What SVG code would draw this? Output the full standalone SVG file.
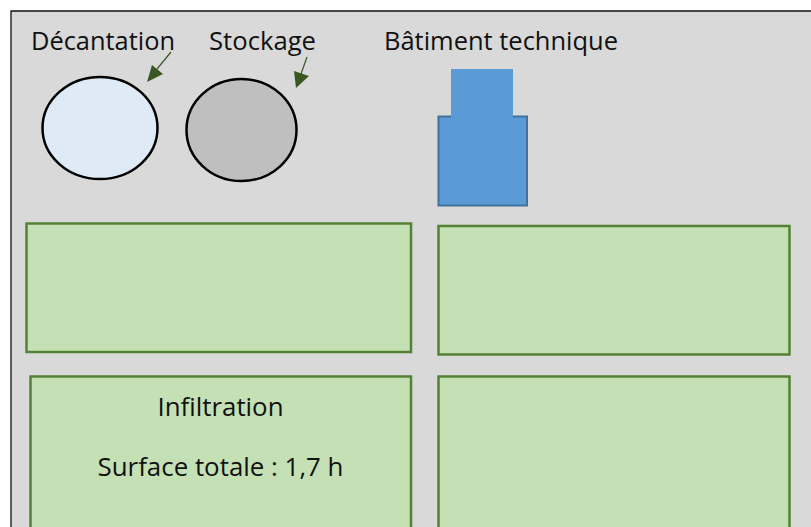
<svg xmlns="http://www.w3.org/2000/svg" width="811" height="527" viewBox="0 0 811 527">
<style>
.lbl{font-family:"Open Sans","Noto Sans","Liberation Sans",sans-serif;font-size:25px;fill:#111}
.zone{fill:#c5e0b4;stroke:#548235;stroke-width:2.5}
.pond{stroke:#000;stroke-width:2.500}
.ln{stroke:#385723;stroke-width:1.2;fill:none}
.hd{fill:#385723}
</style>
<rect width="811" height="527" fill="#fff"/>
<g id="background"><path d="M811 11H11V527H811Z" fill="#d9d9d9"/><path d="M811 11H11V527" fill="none" stroke="#111" stroke-width="1.300"/></g>
<g id="decantation"><ellipse class="pond" cx="100" cy="128" rx="57.500" ry="51" fill="#deebf7"/><text class="lbl" x="31" y="50" textLength="144" lengthAdjust="spacingAndGlyphs">Décantation</text></g>
<g id="stockage"><ellipse class="pond" cx="241.500" cy="130" rx="55" ry="51" fill="#bfbfbf"/><text class="lbl" x="209" y="50" textLength="107" lengthAdjust="spacingAndGlyphs">Stockage</text></g>
<g id="batiment"><rect x="438.500" y="116.500" width="88.500" height="89" fill="#5b9bd5" stroke="#41719c" stroke-width="2"/><rect x="451" y="69" width="62" height="50" fill="#5b9bd5"/><text class="lbl" x="384" y="50" textLength="234" lengthAdjust="spacingAndGlyphs">Bâtiment technique</text></g>
<g id="zone1"><rect class="zone" x="26.500" y="223.500" width="384.500" height="128.500"/></g>
<g id="zone2"><rect class="zone" x="438.500" y="226" width="351" height="128.500"/></g>
<g id="zone3"><rect class="zone" x="30.500" y="376.500" width="380.500" height="170"/><text class="lbl" x="220.500" y="416" text-anchor="middle" textLength="126" lengthAdjust="spacingAndGlyphs">Infiltration</text><text class="lbl" x="220.500" y="476" text-anchor="middle" textLength="246" lengthAdjust="spacingAndGlyphs">Surface totale : 1,7 h</text></g>
<g id="zone4"><rect class="zone" x="438.500" y="376.500" width="351" height="170"/></g>
<g id="connectors"><path class="ln" d="M171 52L157 69"/><polygon class="hd" points="147,82 152,65 163,74"/><path class="ln" d="M307 57L301 74"/><polygon class="hd" points="296,88 294,71 309,76"/></g>
</svg>
